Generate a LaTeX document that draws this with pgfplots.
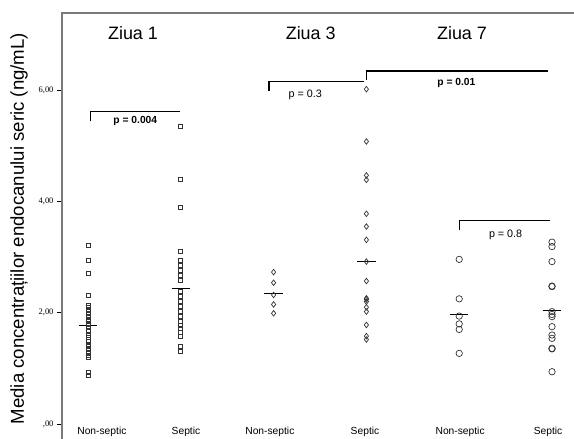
\documentclass[border=0pt]{standalone}
\usepackage{pgfplots}
\pgfplotsset{compat=1.18}
\usepackage{fontspec}
\setmainfont{Liberation Sans}
\newfontfamily\tickfont{Liberation Serif}

\definecolor{framegray}{HTML}{7A7A7A}
\definecolor{markgray}{HTML}{333333}

\tikzset{grp/.style={anchor=base, inner sep=0pt, font=\fontsize{10.3}{12}\selectfont, yshift=4.2bp}}

\begin{document}
\begin{tikzpicture}
\useasboundingbox (-62bp,0) rectangle (512bp,439bp);
\begin{axis}[
  scale only axis,
  width=512bp, height=426bp,
  at={(0,0)}, anchor=south west,
  xmin=0.72, xmax=6.237,
  ymin=-0.27, ymax=7.39,
  axis line style={draw=none},
  xtick=\empty,
  ytick={0,2,4,6},
  yticklabels={{,00},{2,00},{4,00},{6,00}},
  yticklabel style={font=\tickfont\fontsize{8.5}{10}\selectfont},
  y tick style={black, line width=0.6bp},
  tick align=outside,
  major tick length=5bp,
  ylabel={Media concentrațiilor endocanului seric (ng/mL)},
  every axis y label/.style={at={(rel axis cs:0,0.494)}, xshift=-43bp, rotate=90, anchor=center,
    font=\fontsize{18.7}{22}\selectfont},
  clip=false,
  every axis plot/.append style={mark options={solid, draw=markgray, line width=0.7bp}},
]
% frame: left and top edges only
\draw[framegray, line width=1.2bp] (rel axis cs:0,0) -- (rel axis cs:0,1) -- (rel axis cs:1,1);

% Ziua 1 - Non-septic
\addplot[only marks, mark=square, mark size=2bp] coordinates {
 (1,3.22) (1,2.95) (1,2.71) (1,2.32) (1,2.14) (1,2.09) (1,2.05) (1,1.99) (1,1.94)
 (1,1.89) (1,1.84) (1,1.79) (1,1.74) (1,1.69) (1,1.60) (1,1.55) (1,1.49) (1,1.44)
 (1,1.40) (1,1.35) (1,1.29) (1,1.24) (1,1.20) (1,0.92) (1,0.87)};
% Ziua 1 - Septic
\addplot[only marks, mark=square, mark size=2bp] coordinates {
 (2,5.35) (2,4.40) (2,3.89) (2,3.11) (2,2.95) (2,2.86) (2,2.77) (2,2.68) (2,2.59)
 (2,2.38) (2,2.29) (2,2.20) (2,2.11) (2,2.02) (2,1.93) (2,1.84) (2,1.78) (2,1.72)
 (2,1.64) (2,1.57) (2,1.39) (2,1.30)};
% Ziua 3 - Non-septic
\addplot[only marks, mark=diamond, mark size=2.8bp] coordinates {
 (3,2.73) (3,2.54) (3,2.32) (3,2.15) (3,1.99)};
% Ziua 3 - Septic
\addplot[only marks, mark=diamond, mark size=2.8bp] coordinates {
 (4,6.02) (4,5.08) (4,4.47) (4,4.39) (4,3.78) (4,3.55) (4,3.31) (4,2.92) (4,2.57)
 (4,2.26) (4,2.24) (4,2.20) (4,2.10) (4,2.02) (4,1.78) (4,1.58) (4,1.52)};
% Ziua 7 - Non-septic
\addplot[only marks, mark=o, mark size=3.2bp] coordinates {
 (5,2.96) (5,2.25) (5,1.94) (5,1.80) (5,1.70) (5,1.27)};
% Ziua 7 - Septic
\addplot[only marks, mark=o, mark size=3.2bp] coordinates {
 (6,3.27) (6,3.19) (6,2.92) (6,2.48) (6,2.47) (6,2.02) (6,1.97) (6,1.93) (6,1.75)
 (6,1.60) (6,1.54) (6,1.36) (6,1.35) (6,0.94)};

% group means
\addplot[black, line width=0.8bp] coordinates {(0.9,1.77) (1.1,1.77)};
\addplot[black, line width=0.8bp] coordinates {(1.9,2.44) (2.1,2.44)};
\addplot[black, line width=0.8bp] coordinates {(2.9,2.34) (3.1,2.34)};
\addplot[black, line width=0.8bp] coordinates {(3.9,2.92) (4.1,2.92)};
\addplot[black, line width=0.8bp] coordinates {(4.9,1.97) (5.1,1.97)};
\addplot[black, line width=0.8bp] coordinates {(5.9,2.05) (6.1,2.05)};

% significance brackets
\addplot[black, line width=1.4bp] coordinates {(1.03,5.44) (1.03,5.62) (1.99,5.62)};
\addplot[black, line width=1.4bp] coordinates {(2.95,5.98) (2.95,6.16) (3.97,6.16)};
\addplot[black, line width=1.4bp] coordinates {(4.00,6.19) (4.00,6.35) (5.96,6.35)};
\addplot[black, line width=1.4bp] coordinates {(5.00,3.48) (5.00,3.66) (5.98,3.66)};

\node[font=\bfseries\fontsize{10.3}{12}\selectfont] at (axis cs:1.51,5.45) {p = 0.004};
\node[font=\fontsize{10.8}{12}\selectfont] at (axis cs:3.34,5.92) {p = 0.3};
\node[font=\bfseries\fontsize{10.3}{12}\selectfont] at (axis cs:4.97,6.13) {p = 0.01};
\node[font=\fontsize{10.8}{12}\selectfont] at (axis cs:5.50,3.40) {p = 0.8};

% day titles
\node[font=\fontsize{18}{21}\selectfont] at (axis cs:1.485,7.03) {Ziua 1};
\node[font=\fontsize{18}{21}\selectfont] at (axis cs:3.40,7.03) {Ziua 3};
\node[font=\fontsize{18}{21}\selectfont] at (axis cs:5.03,7.03) {Ziua 7};

% group names along the bottom
\node[grp] at (axis cs:1.15,-0.27) {Non-septic};
\node[grp] at (axis cs:2.056,-0.27) {Septic};
\node[grp] at (axis cs:2.96,-0.27) {Non-septic};
\node[grp] at (axis cs:3.985,-0.27) {Septic};
\node[grp] at (axis cs:5.01,-0.27) {Non-septic};
\node[grp] at (axis cs:5.957,-0.27) {Septic};
\end{axis}
\end{tikzpicture}
\end{document}
